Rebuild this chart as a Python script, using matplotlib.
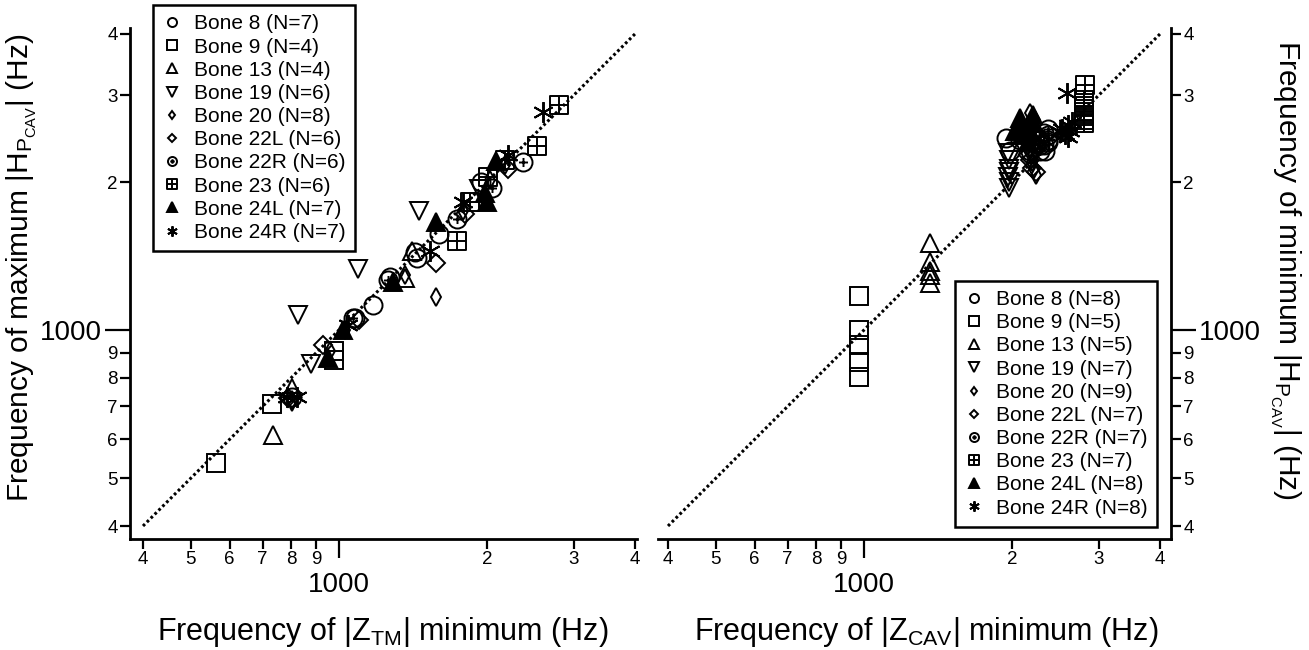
import matplotlib
matplotlib.use("Agg")
import matplotlib.pyplot as plt
from matplotlib.path import Path
from matplotlib.ticker import FixedLocator, FixedFormatter

plt.rcParams['font.family'] = ['Liberation Sans', 'DejaVu Sans']
plt.rcParams['mathtext.fontset'] = 'custom'
plt.rcParams['mathtext.rm'] = 'Liberation Sans'
plt.rcParams['mathtext.it'] = 'Liberation Sans'
plt.rcParams['mathtext.default'] = 'regular'

# ---------------------------------------------------------------------------
# Data (Hz)
# Left panel: frequency of |Z_TM| minimum (x) vs frequency of maximum |H_Pcav| (y)
tm_x_b8 = [1077, 1172, 1269, 1426, 1600, 1946, 1445]
tm_y_b8 = [1058, 1125, 1281, 1439, 1565, 2000, 1401]
tm_x_b9 = [563, 731, 976, 976]
tm_y_b9 = [537, 708, 909, 870]
tm_x_b13 = [734, 802, 1363, 1407]
tm_y_b13 = [612, 763, 1275, 1451]
tm_x_b19 = [828, 878, 1092, 1458, 802, 1929]
tm_y_b19 = [1073, 854, 1333, 1743, 714, 1938]
tm_x_b20 = [1579, 802, 958, 1030, 1363, 1787, 2027, 2175]
tm_y_b20 = [1167, 721, 909, 1000, 1292, 1750, 2018, 2165]
tm_x_b22l = [928, 1101, 1579, 1804, 2205, 788]
tm_y_b22l = [932, 1049, 1369, 1720, 2129, 727]
tm_x_b22r = [2366, 1743, 1068, 1258, 2046, 802]
tm_y_b22r = [2196, 1681, 1058, 1264, 1946, 731]
tm_x_b23 = [2805, 2532, 2009, 1846, 1735, 2175]
tm_y_b23 = [2866, 2366, 2046, 1821, 1517, 2216]
tm_x_b24l = [1579, 2092, 1981, 2000, 950, 1020, 1287]
tm_y_b24l = [1659, 2205, 1896, 1821, 878, 1002, 1252]
tm_x_b24r = [2598, 2205, 1787, 1531, 784, 824, 1044]
tm_y_b24r = [2781, 2266, 1821, 1451, 731, 731, 1025]

# Right panel: frequency of |Z_CAV| minimum (x) vs frequency of minimum |H_Pcav| (y)
cav_x_b8 = [1946, 1981, 2366, 2337, 2276, 2175, 2073, 2226]
cav_y_b8 = [2455, 2317, 2410, 2317, 2377, 2317, 2433, 2488]
cav_x_b9 = [976, 976, 976, 976, 976]
cav_y_b9 = [1172, 1000, 932, 862, 802]
cav_x_b13 = [1363, 1363, 1363, 1363, 1363]
cav_y_b13 = [1503, 1375, 1321, 1292, 1246]
cav_x_b19 = [1963, 1974, 1970, 1974, 1968, 1974, 1974]
cav_y_b19 = [2296, 2216, 2129, 2092, 2046, 2000, 1946]
cav_x_b20 = [2175, 2226, 2196, 2226, 2205, 2196, 2216, 2236, 2165]
cav_y_b20 = [2768, 2671, 2543, 2377, 2266, 2196, 2129, 2064, 2317]
cav_x_b22l = [2175, 2196, 2256, 2276, 2155, 2216, 2236]
cav_y_b22l = [2216, 2138, 2377, 2455, 2266, 2317, 2092]
cav_x_b22r = [2366, 2366, 2366, 2327, 2276, 2226, 2327]
cav_y_b22r = [2566, 2488, 2433, 2377, 2317, 2433, 2521]
cav_x_b23 = [2817, 2800, 2800, 2800, 2800, 2800, 2800]
cav_y_b23 = [3148, 2933, 2853, 2781, 2720, 2671, 2635]
cav_x_b24l = [2073, 2092, 2205, 2205, 2101, 2155, 2027, 2175]
cav_y_b24l = [2695, 2577, 2732, 2635, 2488, 2410, 2543, 2543]
cav_x_b24r = [2586, 2532, 2598, 2623, 2566, 2647, 2499, 2598]
cav_y_b24r = [3040, 2566, 2610, 2543, 2510, 2647, 2532, 2466]

bone_names = ["8", "9", "13", "19", "20", "22L", "22R", "23", "24L", "24R"]

# Axis ticks
major_ticks = [1000]
major_labels = ["1000"]
minor_ticks = [400, 500, 600, 700, 800, 900, 2000, 3000, 4000]
minor_labels = ["4", "5", "6", "7", "8", "9", "2", "3", "4"]
identity_line = [400, 4000]

# ---------------------------------------------------------------------------
# Marker shapes
MOVETO, LINETO, CLOSE = Path.MOVETO, Path.LINETO, Path.CLOSEPOLY
circle_plus = Path.make_compound_path(
    Path.unit_circle(),
    Path([(-0.5, 0), (0.5, 0)], [MOVETO, LINETO]),
    Path([(0, -0.5), (0, 0.5)], [MOVETO, LINETO]),
)
square_plus = Path.make_compound_path(
    Path([(-1, -1), (1, -1), (1, 1), (-1, 1), (-1, -1)],
         [MOVETO, LINETO, LINETO, LINETO, CLOSE]),
    Path([(-1, 0), (1, 0)], [MOVETO, LINETO]),
    Path([(0, -1), (0, 1)], [MOVETO, LINETO]),
)

styles = [
    dict(marker='o', ms=13, mfc='none'),
    dict(marker='s', ms=13, mfc='none'),
    dict(marker='^', ms=13, mfc='none'),
    dict(marker='v', ms=13, mfc='none'),
    dict(marker='d', ms=9, mfc='none'),
    dict(marker='D', ms=9, mfc='none'),
    dict(marker=circle_plus, ms=13, mfc='none'),
    dict(marker=square_plus, ms=13, mfc='none'),
    dict(marker='^', ms=13, mfc='black'),
    dict(marker=(6, 2, 0), ms=15, mfc='black'),
]

left_series = [
    (tm_x_b8, tm_y_b8), (tm_x_b9, tm_y_b9), (tm_x_b13, tm_y_b13),
    (tm_x_b19, tm_y_b19), (tm_x_b20, tm_y_b20), (tm_x_b22l, tm_y_b22l),
    (tm_x_b22r, tm_y_b22r), (tm_x_b23, tm_y_b23), (tm_x_b24l, tm_y_b24l),
    (tm_x_b24r, tm_y_b24r),
]
right_series = [
    (cav_x_b8, cav_y_b8), (cav_x_b9, cav_y_b9), (cav_x_b13, cav_y_b13),
    (cav_x_b19, cav_y_b19), (cav_x_b20, cav_y_b20), (cav_x_b22l, cav_y_b22l),
    (cav_x_b22r, cav_y_b22r), (cav_x_b23, cav_y_b23), (cav_x_b24l, cav_y_b24l),
    (cav_x_b24r, cav_y_b24r),
]

W, H = 1309, 650
fig = plt.figure(figsize=(W / 100, H / 100), dpi=100)

ax_l = fig.add_axes([130 / W, 111 / H, 507 / W, 511 / H])
ax_r = fig.add_axes([658 / W, 111 / H, 513 / W, 511 / H])


def style_axes(ax, side):
    ax.set_xscale('log')
    ax.set_yscale('log')
    for axis in (ax.xaxis, ax.yaxis):
        axis.set_major_locator(FixedLocator(major_ticks))
        axis.set_major_formatter(FixedFormatter(major_labels))
        axis.set_minor_locator(FixedLocator(minor_ticks))
        axis.set_minor_formatter(FixedFormatter(minor_labels))
    for s in ax.spines.values():
        s.set_linewidth(2.0)
    ax.spines['top'].set_visible(False)
    other = 'right' if side == 'left' else 'left'
    ax.spines[other].set_visible(False)
    if side == 'right':
        ax.yaxis.tick_right()
    ax.tick_params(axis='both', which='major', direction='out', width=1.6,
                   labelsize=20)
    ax.tick_params(axis='both', which='minor', direction='out', length=7,
                   width=1.6, labelsize=13.5, pad=2)
    ax.tick_params(axis='x', which='major', length=14, pad=10)
    ax.tick_params(axis='y', which='major', length=18, pad=2)


def draw_panel(ax, series, side):
    ax.plot(identity_line, identity_line, color='black', lw=2.2,
            ls=(0, (0.9, 0.9)), zorder=1)
    handles = []
    for (xs, ys), st, name in zip(series, styles, bone_names):
        h, = ax.plot(xs, ys, ls='none', color='black', mec='black', mew=1.4,
                     label=f"Bone {name} (N={len(xs)})", zorder=3, **st)
        handles.append(h)
    style_axes(ax, side)
    return handles


h_l = draw_panel(ax_l, left_series, 'left')
h_r = draw_panel(ax_r, right_series, 'right')

ax_l.set_xlim(376.4, 4038)
ax_l.set_ylim(376.4, 4113)
ax_r.set_xlim(381.7, 4211)
ax_r.set_ylim(376.4, 4113)

leg_kw = dict(fontsize=15, markerscale=0.5, frameon=True, fancybox=False,
              edgecolor='black', framealpha=1, handlelength=0.9,
              handletextpad=0.6, labelspacing=0.2, borderpad=0.45,
              borderaxespad=0, bbox_transform=fig.transFigure)
leg_l = ax_l.legend(handles=h_l, loc='upper left',
                    bbox_to_anchor=(153 / W, 1 - 5 / H), **leg_kw)
leg_r = ax_r.legend(handles=h_r, loc='lower right',
                    bbox_to_anchor=(1157 / W, 1 - 527 / H), **leg_kw)
for leg in (leg_l, leg_r):
    leg.get_frame().set_linewidth(1.8)
    leg.set_zorder(5)

fig.text(383 / W, 1 - 632 / H, r"Frequency of |Z$_{TM}$| minimum (Hz)",
         ha='center', va='center', fontsize=22)
fig.text(926 / W, 1 - 632 / H, r"Frequency of |Z$_{CAV}$| minimum (Hz)",
         ha='center', va='center', fontsize=22)
fig.text(22 / W, 1 - 268 / H, r"Frequency of maximum |H$_{P_{CAV}}$| (Hz)",
         ha='center', va='center', rotation=90, fontsize=21.5)
fig.text(1285 / W, 1 - 270 / H, r"Frequency of minimum |H$_{P_{CAV}}$| (Hz)",
         ha='center', va='center', rotation=270, fontsize=21.5)

fig.savefig("out.png", dpi=100)
